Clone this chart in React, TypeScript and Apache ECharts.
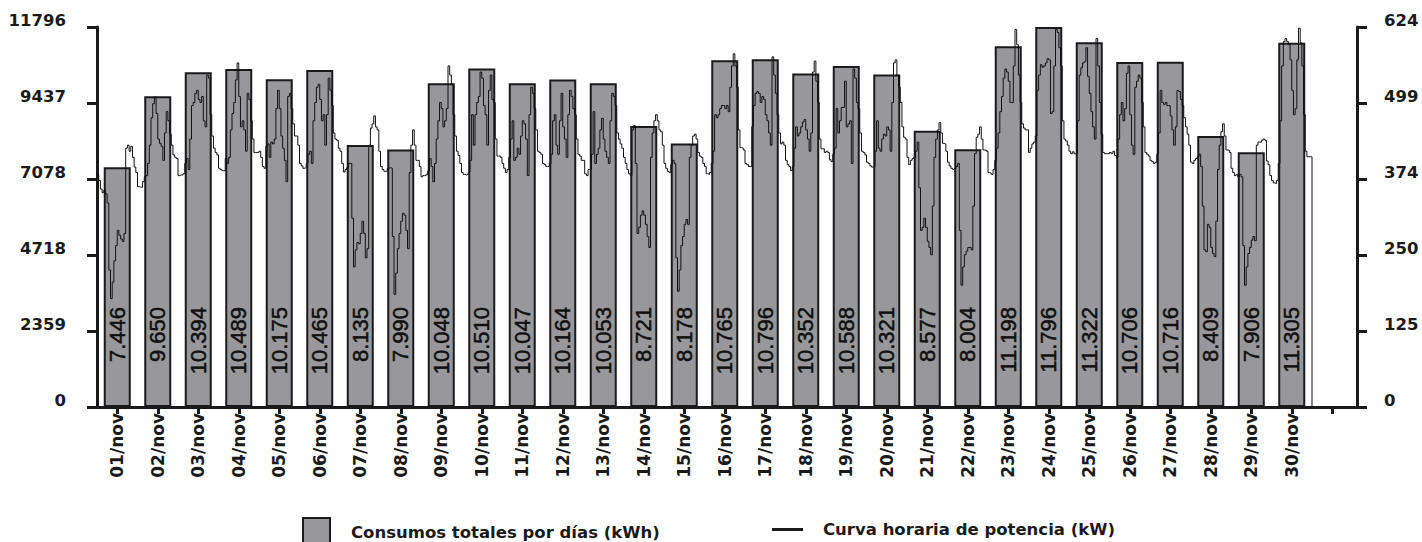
import React, { useEffect, useRef } from "react";
import * as echarts from "echarts";

// ---- data ----
const dayLabels = [
  "01/nov", "02/nov", "03/nov", "04/nov", "05/nov", "06/nov", "07/nov", "08/nov", "09/nov", "10/nov",
  "11/nov", "12/nov", "13/nov", "14/nov", "15/nov", "16/nov", "17/nov", "18/nov", "19/nov", "20/nov",
  "21/nov", "22/nov", "23/nov", "24/nov", "25/nov", "26/nov", "27/nov", "28/nov", "29/nov", "30/nov",
];

// daily consumption (kWh)
const dailyKWh = [
  7446, 9650, 10394, 10489, 10175, 10465, 8135, 7990, 10048, 10510,
  10047, 10164, 10053, 8721, 8178, 10765, 10796, 10352, 10588, 10321,
  8577, 8004, 11198, 11796, 11322, 10706, 10716, 8409, 7906, 11305,
];

const leftTickLabels = [0, 2359, 4718, 7078, 9437, 11796];
const rightTickLabels = [0, 125, 250, 374, 499, 624];

// hourly power (kW), one array per day, hours 0..23
const nov01 = [382, 372, 358, 352, 356, 350, 335, 225, 178, 205, 240, 265, 290, 282, 276, 272, 285, 425, 430, 420, 428, 410, 394, 385];
const nov02 = [362, 361, 361, 370, 378, 380, 400, 430, 475, 498, 509, 482, 440, 433, 428, 405, 450, 485, 470, 448, 430, 414, 410, 408];
const nov03 = [380, 381, 381, 383, 400, 408, 390, 440, 495, 500, 515, 520, 505, 500, 510, 470, 460, 545, 540, 480, 445, 425, 418, 414];
const nov04 = [392, 390, 388, 388, 408, 400, 410, 455, 482, 500, 537, 565, 510, 460, 470, 455, 420, 515, 505, 470, 440, 418, 418, 418];
const nov05 = [420, 410, 395, 392, 428, 432, 410, 435, 432, 440, 490, 520, 490, 445, 425, 405, 370, 510, 515, 490, 465, 445, 445, 430];
const nov06 = [400, 396, 392, 393, 400, 415, 420, 400, 470, 500, 525, 530, 505, 470, 480, 430, 480, 540, 520, 495, 450, 440, 438, 425];
const nov07 = [420, 400, 386, 390, 393, 400, 400, 310, 230, 258, 270, 268, 285, 305, 285, 245, 260, 430, 458, 465, 478, 460, 455, 420];
const nov08 = [395, 390, 387, 387, 392, 393, 392, 280, 185, 220, 260, 285, 305, 318, 315, 290, 260, 385, 430, 455, 430, 405, 405, 395];
const nov09 = [378, 380, 380, 382, 388, 408, 395, 370, 400, 440, 470, 500, 490, 460, 470, 490, 560, 545, 530, 480, 445, 420, 413, 400];
const nov10 = [385, 382, 381, 382, 385, 405, 480, 430, 480, 500, 510, 550, 540, 495, 480, 430, 520, 545, 505, 500, 440, 412, 412, 410];
const nov11 = [400, 392, 385, 390, 410, 440, 470, 405, 410, 425, 415, 445, 470, 465, 440, 380, 480, 525, 515, 490, 455, 420, 418, 415];
const nov12 = [400, 398, 395, 395, 400, 415, 470, 480, 430, 415, 470, 515, 460, 440, 410, 480, 520, 510, 490, 480, 440, 415, 412, 405];
const nov13 = [405, 383, 380, 390, 390, 415, 485, 400, 415, 425, 455, 474, 440, 420, 410, 400, 470, 515, 510, 495, 450, 440, 432, 425];
const nov14 = [410, 400, 390, 383, 380, 455, 462, 400, 285, 295, 315, 322, 315, 300, 280, 262, 410, 450, 470, 480, 470, 455, 452, 430];
const nov15 = [400, 392, 387, 385, 398, 405, 400, 245, 190, 225, 265, 280, 300, 308, 300, 410, 430, 445, 448, 440, 418, 412, 410, 400];
const nov16 = [395, 383, 382, 385, 400, 420, 480, 475, 480, 490, 495, 495, 490, 495, 485, 525, 560, 580, 560, 525, 455, 426, 425, 422];
const nov17 = [400, 398, 395, 395, 460, 495, 515, 518, 515, 500, 510, 505, 480, 470, 450, 430, 575, 545, 515, 480, 450, 432, 435, 430];
const nov18 = [405, 398, 395, 388, 395, 425, 460, 445, 450, 460, 468, 472, 455, 440, 420, 450, 550, 568, 535, 500, 440, 424, 424, 418];
const nov19 = [420, 418, 406, 403, 415, 425, 490, 450, 470, 492, 492, 535, 460, 465, 470, 400, 555, 540, 500, 490, 450, 420, 418, 414];
const nov20 = [402, 400, 396, 394, 395, 420, 470, 425, 420, 440, 448, 445, 460, 455, 420, 500, 565, 570, 545, 525, 500, 460, 443, 440];
const nov21 = [410, 398, 405, 408, 410, 420, 435, 360, 290, 295, 310, 295, 272, 262, 250, 330, 410, 440, 455, 467, 450, 433, 432, 420];
const nov22 = [402, 396, 392, 390, 392, 395, 400, 290, 200, 230, 250, 256, 262, 262, 258, 330, 416, 443, 448, 460, 440, 422, 422, 420];
const nov23 = [385, 384, 382, 390, 405, 425, 450, 485, 510, 540, 555, 550, 535, 500, 500, 560, 620, 595, 545, 500, 465, 458, 455, 455];
const nov24 = [418, 425, 432, 435, 445, 520, 545, 562, 558, 560, 565, 572, 570, 482, 485, 560, 620, 615, 590, 560, 470, 440, 437, 430];
const nov25 = [420, 416, 419, 416, 416, 470, 545, 557, 565, 567, 590, 543, 515, 485, 460, 440, 605, 560, 500, 448, 418, 416, 416, 416];
const nov26 = [418, 416, 420, 413, 410, 440, 480, 500, 470, 490, 548, 560, 480, 430, 415, 525, 535, 545, 540, 500, 460, 418, 415, 412];
const nov27 = [405, 403, 400, 402, 415, 450, 520, 500, 497, 500, 495, 495, 478, 455, 430, 460, 520, 518, 505, 495, 475, 460, 448, 430];
const nov28 = [402, 400, 405, 408, 411, 415, 395, 330, 258, 255, 300, 295, 262, 252, 247, 305, 390, 430, 452, 465, 445, 422, 422, 418];
const nov29 = [392, 385, 380, 382, 378, 382, 378, 265, 200, 230, 252, 262, 274, 280, 273, 430, 435, 435, 438, 440, 438, 404, 398, 380];
const nov30 = [372, 368, 367, 372, 400, 470, 560, 600, 605, 600, 595, 570, 520, 480, 490, 570, 622, 598, 560, 480, 420, 411, 411, 411];

const hourlyByDay = [
  nov01, nov02, nov03, nov04, nov05, nov06, nov07, nov08, nov09, nov10,
  nov11, nov12, nov13, nov14, nov15, nov16, nov17, nov18, nov19, nov20,
  nov21, nov22, nov23, nov24, nov25, nov26, nov27, nov28, nov29, nov30,
];

const BAR_NAME = "Consumos totales por días (kWh)";
const LINE_NAME = "Curva horaria de potencia (kW)";

// ---- layout / style ----
const HOURS = 24;
const PX_PER_HOUR = 40.5 / 24;
const GRID_LEFT = 91;
const GRID_RIGHT = 65;
const GRID_W = 1422 - GRID_LEFT - GRID_RIGHT;
const X_MIN = -6 / PX_PER_HOUR;
const X_MAX = X_MIN + GRID_W / PX_PER_HOUR;
const LEFT_MAX = leftTickLabels[leftTickLabels.length - 1];
const RIGHT_MAX = rightTickLabels[rightTickLabels.length - 1];
const LEFT_INT = LEFT_MAX / (leftTickLabels.length - 1);
const RIGHT_INT = RIGHT_MAX / (rightTickLabels.length - 1);
const LABEL_TOP_OFFSET = 100; // px above the x axis where the bar value text ends

const INK = "#1a1a1a";
const FONT = "'DejaVu Sans', Verdana, sans-serif";

function fmtThousands(v: number): string {
  const th = Math.floor(v / 1000);
  const rest = String(v % 1000).padStart(3, "0");
  return th > 0 ? `${th}.${rest}` : String(v);
}

export default function App() {
  const ref = useRef<HTMLDivElement>(null);

  useEffect(() => {
    if (!ref.current) return;
    const chart = echarts.init(ref.current, undefined, { renderer: "svg" });

    const dayCenter = (i: number) => HOURS * i + HOURS / 2;
    const labelHours = dayLabels.map((_, i) => dayCenter(i));
    const tickHours = [...labelHours, dayCenter(dayLabels.length)];
    const barData = dailyKWh.map((v, i) => [dayCenter(i), v]);

    const lineData: [number, number][] = [];
    hourlyByDay.forEach((arr, d) => arr.forEach((v, h) => lineData.push([d * HOURS + h, v])));
    const endHour = hourlyByDay.length * HOURS;
    const lastVal = hourlyByDay[hourlyByDay.length - 1][HOURS - 1];
    lineData.push([endHour, lastVal]);
    lineData.push([endHour, 0]);

    const yLabelStyle = {
      fontFamily: FONT,
      fontWeight: "bold" as const,
      fontSize: 16.5,
      color: INK,
      verticalAlign: "bottom" as const,
      lineHeight: 13,
    };

    chart.setOption({
      animation: false,
      grid: { left: GRID_LEFT, right: GRID_RIGHT, top: 27, bottom: 135 },
      legend: [
        {
          left: 302,
          top: 517,
          padding: 0,
          itemWidth: 27,
          itemHeight: 28,
          selectedMode: false,
          data: [{ name: BAR_NAME, icon: "rect" }],
          textStyle: { fontFamily: FONT, fontWeight: "bold", fontSize: 16.5, color: INK, padding: [0, 0, 0, 16] },
        },
        {
          left: 772,
          top: 521,
          padding: 0,
          itemWidth: 31,
          itemHeight: 3,
          selectedMode: false,
          data: [{ name: LINE_NAME, icon: "rect", itemStyle: { color: INK } }],
          textStyle: { fontFamily: FONT, fontWeight: "bold", fontSize: 16.5, color: INK, padding: [0, 0, 0, 15] },
        },
      ],
      xAxis: {
        type: "value",
        min: X_MIN,
        max: X_MAX,
        axisLine: { show: true, lineStyle: { color: INK, width: 3 } },
        axisTick: { show: true, length: 7, lineStyle: { color: INK, width: 3 }, customValues: tickHours },
        axisLabel: {
          customValues: labelHours,
          rotate: 90,
          margin: 6,
          formatter: (v: number) => dayLabels[Math.round((v - HOURS / 2) / HOURS)] ?? "",
          fontFamily: FONT,
          fontWeight: "bold",
          fontSize: 17,
          color: INK,
        },
        splitLine: { show: false },
      },
      yAxis: [
        {
          type: "value",
          position: "left",
          min: 0,
          max: LEFT_MAX,
          interval: LEFT_INT,
          axisLine: { show: true, lineStyle: { color: INK, width: 3 } },
          axisTick: { show: true, length: 10, lineStyle: { color: INK, width: 3 } },
          axisLabel: {
            ...yLabelStyle,
            margin: 25,
            formatter: (v: number) => String(leftTickLabels[Math.round(v / LEFT_INT)]),
          },
          splitLine: { show: false },
        },
        {
          type: "value",
          position: "right",
          min: 0,
          max: RIGHT_MAX,
          interval: RIGHT_INT,
          axisLine: { show: true, lineStyle: { color: INK, width: 3 } },
          axisTick: { show: true, length: 10, lineStyle: { color: INK, width: 3 } },
          axisLabel: {
            ...yLabelStyle,
            margin: 27,
            formatter: (v: number) => String(rightTickLabels[Math.round(v / RIGHT_INT)]),
          },
          splitLine: { show: false },
        },
      ],
      series: [
        {
          type: "bar",
          name: BAR_NAME,
          xAxisIndex: 0,
          yAxisIndex: 0,
          barWidth: 27,
          data: barData,
          itemStyle: { color: "#98989c", borderColor: INK, borderWidth: 2 },
          z: 2,
        },
        {
          type: "line",
          name: LINE_NAME,
          xAxisIndex: 0,
          yAxisIndex: 1,
          data: lineData,
          step: "end",
          symbol: "none",
          showSymbol: false,
          lineStyle: { color: "#111", width: 1 },
          itemStyle: { color: "#111" },
          z: 3,
        },
        {
          type: "custom",
          name: "valueLabels",
          xAxisIndex: 0,
          yAxisIndex: 0,
          silent: true,
          data: barData,
          encode: { x: 0, y: 1 },
          z: 4,
          renderItem: (_params: any, api: any) => {
            const base = api.coord([api.value(0), 0]);
            return {
              type: "text",
              x: base[0],
              y: base[1] - LABEL_TOP_OFFSET,
              rotation: Math.PI / 2,
              style: {
                text: fmtThousands(api.value(1)),
                align: "right",
                verticalAlign: "middle",
                fontFamily: "'Liberation Sans', Arial, sans-serif",
                fontSize: 22,
                fill: "#101010",
                stroke: "#101010",
                lineWidth: 0.5,
              },
            };
          },
        },
      ],
    });

    return () => chart.dispose();
  }, []);

  return (
    <div
      ref={ref}
      style={{ position: "absolute", left: 0, top: 0, width: 1422, height: 542, background: "#fff" }}
    />
  );
}
